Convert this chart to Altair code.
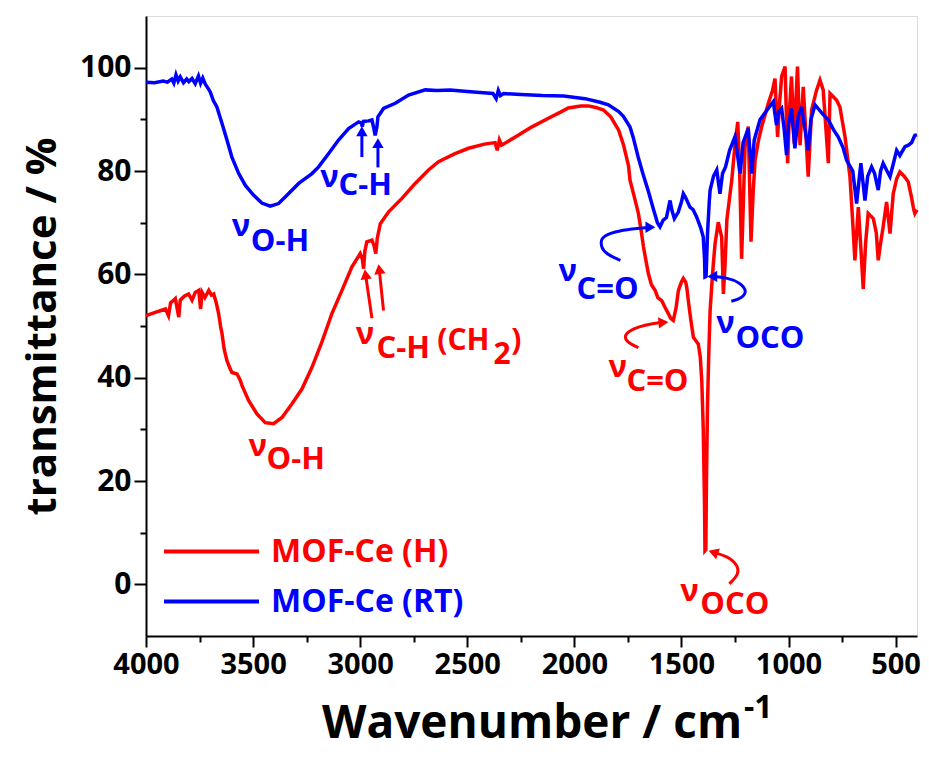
import altair as alt
import pandas as pd

# ---------------- data ----------------
series_names = ["MOF-Ce (H)", "MOF-Ce (RT)"]

# MOF-Ce (RT)  (wavenumber, transmittance)
rt_points = [
    (4000, 97.2), (3960, 97.1), (3920, 97.4), (3900, 97.2), (3880, 97.8), (3870, 97.0),
    (3860, 98.6), (3850, 97.4), (3840, 98.2), (3825, 97.1), (3810, 97.8), (3800, 97.3),
    (3785, 97.9), (3770, 96.9), (3755, 98.4), (3745, 97.0), (3735, 98.0), (3723, 96.8),
    (3710, 96.0), (3700, 95.3), (3685, 93.6), (3669, 92.4), (3645, 89.2), (3622, 86.0),
    (3599, 82.7), (3567, 79.5), (3536, 77.2), (3497, 75.3), (3459, 73.8), (3420, 73.2),
    (3381, 73.7), (3342, 75.3), (3287, 77.6), (3225, 79.5), (3194, 80.8), (3147, 83.4),
    (3101, 86.0), (3054, 88.2), (3007, 89.5), (2995, 89.3), (2990, 88.6), (2985, 89.6),
    (2961, 89.7), (2945, 89.9), (2935, 88.0), (2930, 86.9), (2922, 88.5), (2917, 90.5),
    (2891, 92.1), (2836, 93.1), (2774, 94.7), (2696, 95.7), (2642, 95.6), (2580, 95.7),
    (2500, 95.4), (2440, 95.2), (2380, 95.0), (2365, 94.0), (2355, 95.6), (2345, 94.6),
    (2330, 95.0), (2250, 94.8), (2150, 94.6), (2050, 94.5), (1950, 94.0), (1880, 93.3),
    (1841, 92.8), (1793, 91.5), (1771, 90.6), (1740, 88.5), (1725, 86.5), (1702, 82.7),
    (1680, 79.5), (1656, 76.3), (1630, 72.5), (1612, 70.0), (1600, 69.2), (1585, 70.5),
    (1570, 71.0), (1553, 74.3), (1545, 72.5), (1533, 70.8), (1515, 72.0), (1500, 74.0),
    (1491, 75.6), (1480, 74.8), (1460, 73.0), (1445, 72.5), (1429, 71.1), (1410, 69.0),
    (1398, 67.2), (1392, 63.0), (1390, 59.5), (1385, 59.6), (1378, 68.0), (1370, 74.0),
    (1366, 76.3), (1350, 79.0), (1335, 80.2), (1320, 75.6), (1308, 79.5), (1294, 80.8),
    (1275, 84.0), (1250, 86.6), (1226, 79.5), (1212, 85.5), (1188, 88.2), (1172, 79.5),
    (1160, 86.0), (1133, 89.9), (1100, 91.8), (1071, 93.4), (1063, 91.0), (1056, 88.9),
    (1045, 91.5), (1032, 92.1), (1020, 88.0), (1009, 83.1), (1000, 89.0), (986, 92.1),
    (978, 88.0), (970, 84.4), (955, 90.5), (939, 92.4), (925, 88.5), (908, 84.0),
    (895, 90.0), (876, 92.8), (860, 92.0), (840, 91.0), (814, 89.9), (790, 88.0),
    (768, 86.6), (745, 84.5), (729, 82.1), (700, 80.0), (682, 73.7), (670, 78.5),
    (662, 81.5), (650, 77.0), (643, 74.3), (630, 79.0), (612, 80.8), (598, 79.5),
    (581, 76.3), (570, 80.0), (558, 81.5), (540, 80.0), (526, 78.9), (510, 81.5),
    (495, 84.0), (480, 83.0), (456, 84.7), (440, 85.0), (425, 85.5), (410, 86.9), (400, 87.0),
]

# MOF-Ce (H)
h_points = [
    (4000, 52.0), (3960, 52.6), (3930, 53.0), (3909, 53.3), (3895, 52.0), (3885, 54.5),
    (3870, 55.0), (3863, 55.3), (3855, 53.5), (3847, 51.7), (3840, 55.0), (3820, 55.8),
    (3801, 56.2), (3785, 55.0), (3770, 56.5), (3754, 56.9), (3745, 53.3), (3738, 56.5),
    (3725, 55.5), (3707, 56.9), (3695, 56.0), (3684, 56.2), (3672, 54.5), (3661, 52.4),
    (3652, 50.0), (3645, 48.5), (3635, 45.5), (3622, 43.3), (3610, 42.0), (3599, 41.0),
    (3575, 40.7), (3560, 39.5), (3552, 38.5), (3521, 35.6), (3482, 33.0), (3443, 31.3),
    (3404, 31.1), (3365, 32.3), (3319, 34.9), (3272, 37.8), (3225, 42.0), (3179, 46.9),
    (3132, 52.4), (3085, 56.9), (3039, 61.4), (3000, 64.0), (2990, 63.0), (2984, 61.1),
    (2978, 64.5), (2969, 66.3), (2945, 66.6), (2935, 65.5), (2927, 64.0), (2920, 67.0),
    (2906, 69.8), (2867, 72.1), (2805, 74.7), (2743, 77.6), (2681, 80.2), (2634, 81.8),
    (2560, 83.3), (2494, 84.4), (2420, 85.2), (2370, 85.5), (2360, 84.0), (2350, 86.0),
    (2340, 85.0), (2262, 86.9), (2200, 88.5), (2121, 90.2), (2060, 91.5), (2028, 92.2),
    (1970, 92.6), (1934, 92.6), (1900, 92.3), (1864, 91.8), (1830, 90.5), (1793, 87.9),
    (1770, 85.0), (1747, 81.0), (1740, 78.2), (1720, 75.0), (1701, 71.8), (1690, 69.0),
    (1677, 65.3), (1665, 62.5), (1654, 60.1), (1640, 58.0), (1623, 56.9), (1610, 55.5),
    (1592, 54.9), (1575, 53.5), (1561, 52.4), (1550, 51.5), (1538, 51.1), (1525, 53.5),
    (1514, 56.9), (1500, 58.5), (1491, 59.2), (1480, 58.5), (1475, 57.5), (1468, 55.0),
    (1460, 52.4), (1452, 50.0), (1444, 47.8), (1430, 47.0), (1421, 46.5), (1412, 44.0),
    (1405, 39.4), (1398, 30.0), (1392, 15.0), (1390, 6.5), (1386, 6.7), (1383, 20.0),
    (1378, 35.0), (1372, 45.0), (1366, 53.0), (1358, 58.0), (1351, 62.0), (1343, 65.9),
    (1328, 70.1), (1312, 67.2), (1304, 56.2), (1296, 62.0), (1288, 70.5), (1265, 78.2),
    (1250, 85.0), (1237, 89.5), (1228, 80.0), (1219, 63.0), (1210, 75.0), (1203, 84.7),
    (1188, 88.6), (1175, 66.3), (1165, 76.0), (1156, 82.1), (1140, 86.0), (1125, 88.6),
    (1094, 93.1), (1075, 95.5), (1063, 97.9), (1051, 86.6), (1042, 93.0), (1032, 98.3),
    (1016, 100.2), (1004, 81.5), (995, 92.0), (986, 98.3), (973, 85.3), (965, 94.0),
    (958, 100.2), (946, 85.0), (931, 96.3), (920, 88.0), (908, 78.9), (892, 91.8),
    (870, 95.5), (853, 97.6), (838, 95.7), (814, 81.5), (806, 95.0), (775, 93.7),
    (760, 92.4), (736, 86.6), (713, 78.9), (700, 70.0), (690, 62.7), (674, 73.0),
    (662, 65.0), (651, 57.2), (640, 66.0), (628, 71.8), (604, 70.8), (590, 68.0),
    (581, 62.7), (570, 66.0), (558, 69.2), (542, 74.0), (526, 67.9), (511, 75.6),
    (495, 78.5), (480, 79.8), (460, 79.0), (441, 77.9), (426, 75.0), (415, 72.5),
    (410, 71.8), (400, 72.5),
]

# annotation labels: (text, wavenumber, transmittance, font size, colour)
label_texts = [
    ("ν", 3600, 67.4, 31, "blue"), ("O-H", 3511, 64.6, 31, "blue"),
    ("ν", 3186, 76.9, 31, "blue"), ("C-H", 3101, 75.3, 31, "blue"),
    ("ν", 2074, 58.8, 31, "blue"), ("C=O", 1990, 55.3, 31, "blue"),
    ("ν", 1337, 48.7, 31, "blue"), ("OCO", 1248, 45.8, 31, "blue"),
    ("ν", 3521, 24.9, 31, "red"), ("O-H", 3437, 22.4, 31, "red"),
    ("ν", 3021, 46.6, 31, "red"), ("C-H", 2924, 43.9, 31, "red"),
    ("(CH", 2640, 45.4, 30, "red"), ("2", 2378, 42.6, 30, "red"), (")", 2294, 45.4, 30, "red"),
    ("ν", 1841, 40.1, 31, "red"), ("C=O", 1757, 37.5, 31, "red"),
    ("ν", 1505, -3.2, 31, "red"), ("OCO", 1412, -5.8, 31, "red"),
]

# straight arrows: (tail wn, tail T, head wn, head T, head angle, colour)
straight_arrows = [
    (2992, 82.7, 2992, 87.7, 0, "blue"),
    (2917, 80.7, 2917, 85.4, 0, "blue"),
    (2945, 51.5, 2975, 60.0, 352, "red"),
    (2891, 53.0, 2911, 61.0, 352, "red"),
]

# curved arrows: id -> path points (tail ... head), head angle, colour
curved_arrows = {
    "blue_CO": ([(1785, 62.7), (1864, 64.1), (1880, 66.3), (1864, 67.5), (1790, 68.5), (1701, 68.9), (1645, 69.1)], 90, "blue"),
    "blue_OCO": ([(1267, 54.8), (1220, 55.3), (1192, 56.7), (1225, 58.4), (1290, 59.4), (1356, 59.6)], 270, "blue"),
    "red_CO": ([(1701, 45.8), (1762, 47.0), (1766, 48.6), (1701, 49.9), (1631, 50.5), (1584, 50.7)], 85, "red"),
    "red_OCO": ([(1276, 0.1), (1230, 2.0), (1239, 3.9), (1290, 5.5), (1351, 6.2)], 289, "red"),
}

x_ticks = list(range(500, 4001, 250))
y_ticks = list(range(0, 101, 10))

# ---------------- chart ----------------
FONT = "Open Sans"
COLORS = {"red": "#ff0000", "blue": "#0000ff"}

df_h = pd.DataFrame({"wn": [p[0] for p in h_points], "T": [p[1] for p in h_points], "series": series_names[0]})
df_rt = pd.DataFrame({"wn": [p[0] for p in rt_points], "T": [p[1] for p in rt_points], "series": series_names[1]})

x_scale = alt.Scale(domain=[4000, 400], nice=False, zero=False)
y_scale = alt.Scale(domain=[-10, 110], nice=False, zero=False)

x_axis = alt.Axis(
    values=x_ticks, format="d",
    labelExpr="datum.value % 500 === 0 ? datum.label : ''",
    tickSize={"condition": {"test": "datum.value % 500 === 0", "value": 11}, "value": 6},
    tickWidth=2, tickColor="black", domainWidth=2, domainColor="black",
    labelFont=FONT, labelFontSize=29, labelFontWeight="bold", labelColor="black",
    labelPadding=3, labelFlush=False, labelOverlap=False, grid=False,
    title="Wavenumber / cm", titleFont=FONT, titleFontSize=46, titleFontWeight="bold",
    titleColor="black", titlePadding=22,
)
y_axis = alt.Axis(
    values=y_ticks,
    labelExpr="datum.value % 20 === 0 ? datum.label : ''",
    tickSize={"condition": {"test": "datum.value % 20 === 0", "value": 12}, "value": 6},
    tickWidth=2, tickColor="black", domainWidth=2, domainColor="black",
    labelFont=FONT, labelFontSize=30, labelFontWeight="bold", labelColor="black",
    labelPadding=3, labelFlush=False, labelOverlap=False, grid=False,
    title="transmittance / %", titleFont=FONT, titleFontSize=42, titleFontWeight="bold",
    titleColor="black", titlePadding=15,
)


def legend_for(color, ly):
    return alt.Legend(
        orient="none", legendX=16, legendY=ly, title=None,
        symbolType="stroke", symbolSize=9025, symbolStrokeWidth=4,
        labelColor=color, labelFont=FONT, labelFontSize=32, labelFontWeight="bold",
        labelOffset=10, labelLimit=600,
    )


red_line = alt.Chart(df_h).mark_line(strokeWidth=3.5).encode(
    x=alt.X("wn:Q", scale=x_scale, axis=x_axis),
    y=alt.Y("T:Q", scale=y_scale, axis=y_axis),
    color=alt.Color("series:N", scale=alt.Scale(domain=[series_names[0]], range=[COLORS["red"]]),
                    legend=legend_for(COLORS["red"], 486)),
)
blue_line = alt.Chart(df_rt).mark_line(strokeWidth=3.5).encode(
    x=alt.X("wn:Q", scale=x_scale),
    y=alt.Y("T:Q", scale=y_scale),
    color=alt.Color("series:N", scale=alt.Scale(domain=[series_names[1]], range=[COLORS["blue"]]),
                    legend=legend_for(COLORS["blue"], 536)),
)

df_lab = pd.DataFrame([{"text": t, "wn": w, "T": v, "size": s, "color": COLORS[c]} for t, w, v, s, c in label_texts])
labels = alt.Chart(df_lab).mark_text(align="left", baseline="alphabetic", font=FONT, fontWeight="bold").encode(
    x=alt.X("wn:Q", scale=x_scale), y=alt.Y("T:Q", scale=y_scale),
    text="text:N", size=alt.Size("size:Q", scale=None), color=alt.Color("color:N", scale=None),
)

df_sa = pd.DataFrame([{"wn": a, "T": b, "wn2": c, "T2": d, "angle": e, "color": COLORS[f]} for a, b, c, d, e, f in straight_arrows])
shafts = alt.Chart(df_sa).mark_rule(strokeWidth=3).encode(
    x=alt.X("wn:Q", scale=x_scale), y=alt.Y("T:Q", scale=y_scale), x2="wn2:Q", y2="T2:Q",
    color=alt.Color("color:N", scale=None),
)

rows = []
heads = []
for key, (pts, ang, col) in curved_arrows.items():
    for i, (w, v) in enumerate(pts):
        rows.append({"id": key, "order": i, "wn": w, "T": v, "color": COLORS[col]})
    heads.append({"wn": pts[-1][0], "T": pts[-1][1], "angle": ang, "color": COLORS[col]})
for a, b, c, d, e, f in straight_arrows:
    heads.append({"wn": c, "T": d, "angle": e, "color": COLORS[f]})

df_curve = pd.DataFrame(rows)
curves = alt.Chart(df_curve).mark_line(strokeWidth=3, interpolate="basis").encode(
    x=alt.X("wn:Q", scale=x_scale), y=alt.Y("T:Q", scale=y_scale),
    detail="id:N", order="order:Q", color=alt.Color("color:N", scale=None),
)

df_heads = pd.DataFrame(heads)
arrow_heads = alt.Chart(df_heads).mark_point(shape="triangle-up", filled=True, size=130, opacity=1).encode(
    x=alt.X("wn:Q", scale=x_scale), y=alt.Y("T:Q", scale=y_scale),
    angle=alt.Angle("angle:Q", scale=None), color=alt.Color("color:N", scale=None),
)

sup = alt.Chart(pd.DataFrame({"t": ["-1"]})).mark_text(
    align="left", baseline="alphabetic", font=FONT, fontWeight="bold", fontSize=32, color="black"
).encode(text="t:N", x=alt.value(598), y=alt.value(702))

chart = alt.layer(
    red_line, blue_line, labels, shafts, curves, arrow_heads, sup
).resolve_scale(color="independent").properties(
    width=771, height=620,
    autosize=alt.AutoSizeParams(type="none"),
    padding={"left": 138, "top": 8, "right": 4, "bottom": 125},
).configure_view(stroke="black", strokeWidth=2).configure(font=FONT)

chart.save("out.html", embed_options={"renderer": "svg", "actions": False})
